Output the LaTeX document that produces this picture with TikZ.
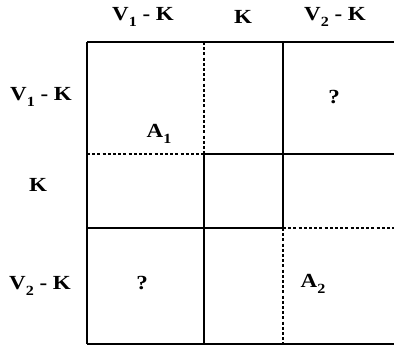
\documentclass[tikz,border=0pt]{standalone}
\usepackage{fontspec}
\setmainfont{Liberation Serif}
\newcommand{\subx}[1]{\raisebox{-0.6ex}{\fontsize{14}{14}\selectfont #1}}
\begin{document}
\begin{tikzpicture}[x=1pt,y=-1pt,
  lbl/.style={font=\fontsize{20}{20}\selectfont\bfseries, inner sep=0pt, xscale=1.15},
  solidline/.style={line width=1.6pt},
  dashline/.style={line width=1.4pt, dash pattern=on 3pt off 2.2pt}]
\useasboundingbox (0,0) rectangle (394,345);
% solid lines
\draw[solidline] (87,42) -- (394,42);
\draw[solidline] (87,42) -- (87,344);
\draw[solidline] (87,344) -- (394,344);
\draw[solidline] (204,154) -- (204,344);
\draw[solidline] (283,42) -- (283,228);
\draw[solidline] (204,154) -- (394,154);
\draw[solidline] (87,228) -- (283,228);
% dashed lines
\draw[dashline] (204,42) -- (204,154);
\draw[dashline] (283,228) -- (283,344);
\draw[dashline] (87,154) -- (204,154);
\draw[dashline] (283,228) -- (394,228);
% headers
\node[lbl] (h1) at (143,17) {V\subx{1} - K};
\node[lbl] (h2) at (243,17) {K};
\node[lbl] (h3) at (335,17) {V\subx{2} - K};
\node[lbl] (r1) at (41,97) {V\subx{1} - K};
\node[lbl] (r2) at (38,185) {K};
\node[lbl] (r3) at (40,286) {V\subx{2} - K};
% cell labels
\node[lbl] (q1) at (334,97) {?};
\node[lbl] (a1) at (159,134) {A\subx{1}};
\node[lbl] (q2) at (142,283) {?};
\node[lbl] (a2) at (313,284) {A\subx{2}};
\end{tikzpicture}
\end{document}
